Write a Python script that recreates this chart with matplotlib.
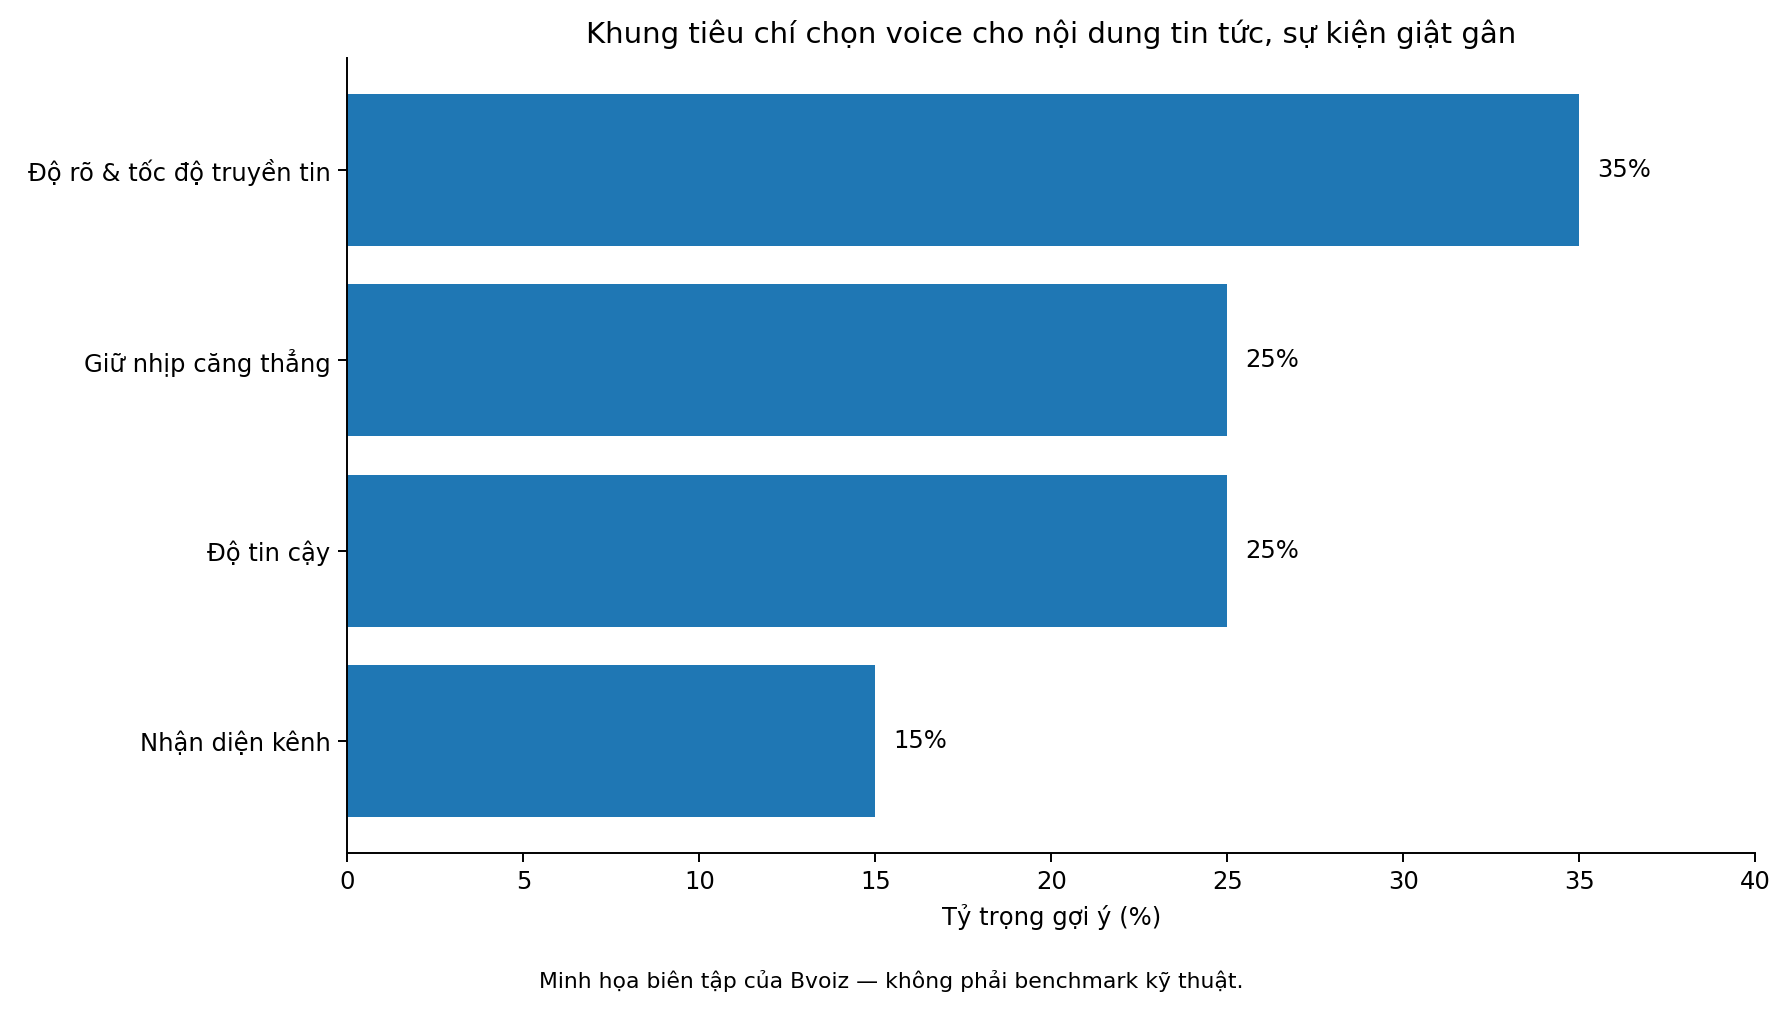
import matplotlib
matplotlib.use("Agg")
import matplotlib.pyplot as plt

categories = ["Độ rõ & tốc độ truyền tin", "Giữ nhịp căng thẳng", "Độ tin cậy", "Nhận diện kênh"]
values = [35, 25, 25, 15]
labels = ["35%", "25%", "25%", "15%"]

fig = plt.figure(figsize=(1782/175, 1010/175), dpi=175)
ax = fig.add_axes([0.195, 0.155, 0.79, 0.788])
y = list(range(len(categories)))[::-1]
ax.barh(y, values, height=0.8, color="#1f77b4")
for yi, v, l in zip(y, values, labels):
    ax.text(v + 0.5, yi, l, va="center", ha="left", fontsize=10)
ax.set_yticks(y)
ax.set_yticklabels(categories)
ax.set_xlim(0, 40)
ax.set_xlabel("Tỷ trọng gợi ý (%)")
ax.set_title("Khung tiêu chí chọn voice cho nội dung tin tức, sự kiện giật gân", fontsize=12)
for s in ["top", "right"]:
    ax.spines[s].set_visible(False)
fig.text(0.5, 0.022, "Minh họa biên tập của Bvoiz — không phải benchmark kỹ thuật.", ha="center", fontsize=9)
fig.savefig("out.png", dpi=175)
